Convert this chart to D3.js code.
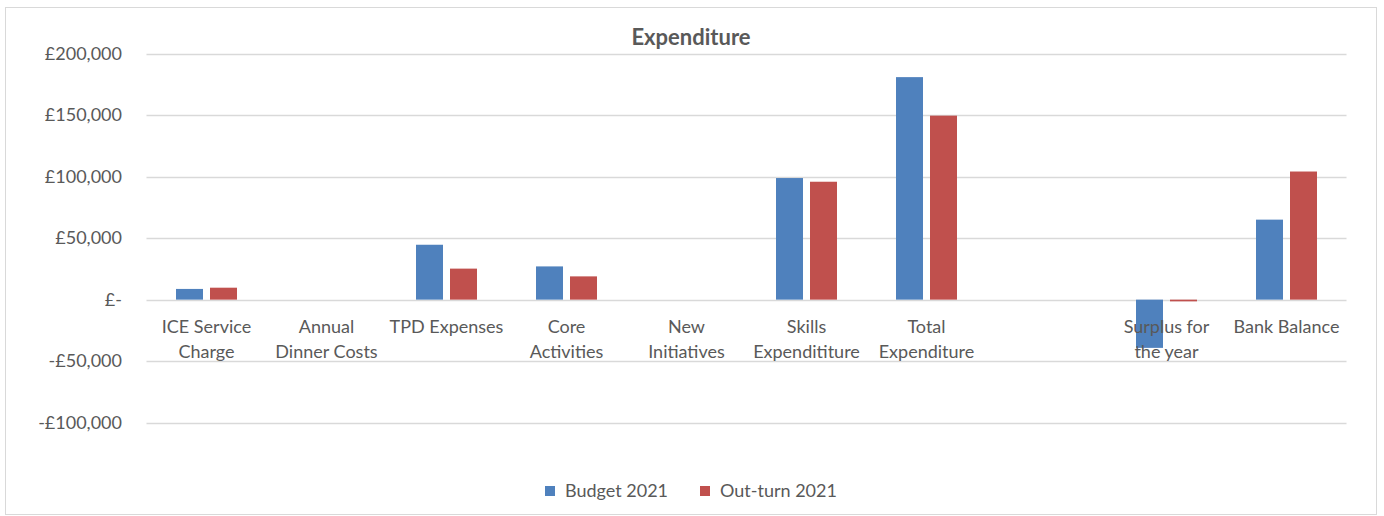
<!DOCTYPE html>
<html>
<head>
<meta charset="utf-8">
<script src="https://cdn.jsdelivr.net/npm/d3@7"></script>
<style>
  body { margin: 0; background: #fff; }
  text { font-family: Lato, "Liberation Sans", sans-serif; fill: #595959; }
</style>
</head>
<body>
<svg id="chart"></svg>
<script>
// data
var categories = ["ICE Service\nCharge", "Annual\nDinner Costs", "TPD Expenses", "Core\nActivities",
  "New\nInitiatives", "Skills\nExpendititure", "Total\nExpenditure", "", "Surplus for\nthe year", "Bank Balance"];
var seriesNames = ["Budget 2021", "Out-turn 2021"];
var budget = [8700, 0, 44600, 27000, 0, 98800, 180800, null, -39200, 65000];
var outturn = [9700, 0, 25200, 18900, 0, 95800, 149500, null, -1400, 104100];
var yTicks = [-100000, -50000, 0, 50000, 100000, 150000, 200000];
var colours = ["#4f81bd", "#c0504d"];

var svgWidth = 1384, svgHeight = 516;
var svg = d3.select("#chart").attr("width", svgWidth).attr("height", svgHeight);

// chart frame
svg.append("rect")
  .attr("x", 5.5).attr("y", 7.5)
  .attr("width", 1371).attr("height", 507)
  .attr("fill", "#fff").attr("stroke", "#d9d9d9");

var x0 = d3.scaleBand().domain(d3.range(categories.length)).range([146.5, 1346.5]).padding(0);
var x1 = d3.scaleBand().domain(seriesNames).range([0, x0.bandwidth()])
  .paddingInner(0.206).paddingOuter(0.868);
var y = d3.scaleLinear().domain([-100000, 200000]).range([422.7, 53.5]);

var fmt = d3.format(",");
function money(v) {
  if (v === 0) return "£-";
  return (v < 0 ? "-" : "") + "£" + fmt(Math.abs(v));
}

// gridlines + y labels
var yAxis = d3.axisLeft(y).tickValues(yTicks).tickFormat(money).tickSize(0).tickPadding(0);
var ga = svg.append("g").attr("transform", "translate(122,0)").call(yAxis);
ga.select(".domain").remove();
ga.selectAll("text").attr("font-size", 18).attr("fill", "#595959")
  .style("font-family", "Lato, sans-serif");

svg.append("g").selectAll("line").data(yTicks).enter().append("line")
  .attr("x1", x0.range()[0]).attr("x2", x0.range()[1])
  .attr("y1", function(d) { return Math.round(y(d)) + 0.5; })
  .attr("y2", function(d) { return Math.round(y(d)) + 0.5; })
  .attr("stroke", "#d9d9d9").attr("stroke-width", 1.3);

// bars
var rows = categories.map(function(c, i) {
  return { i: i, vals: [budget[i], outturn[i]] };
});
var groups = svg.append("g").selectAll("g").data(rows).enter().append("g")
  .attr("transform", function(d) { return "translate(" + x0(d.i) + ",0)"; });
groups.selectAll("rect")
  .data(function(d) {
    return d.vals.map(function(v, k) { return { name: seriesNames[k], v: v, k: k }; })
      .filter(function(e) { return e.v !== null && e.v !== 0; });
  })
  .enter().append("rect")
  .attr("x", function(d) { return x1(d.name); })
  .attr("width", x1.bandwidth())
  .attr("y", function(d) { return y(Math.max(0, d.v)); })
  .attr("height", function(d) { return Math.abs(y(d.v) - y(0)); })
  .attr("fill", function(d) { return colours[d.k]; });

// category labels
var lab = svg.append("g").selectAll("text").data(categories).enter().append("text")
  .attr("text-anchor", "middle")
  .attr("font-size", 18)
  .attr("x", function(d, i) { return x0(i) + x0.bandwidth() / 2; })
  .attr("y", 327);
lab.each(function(d) {
  var t = d3.select(this);
  d.split("\n").forEach(function(line, j) {
    t.append("tspan").attr("x", t.attr("x")).attr("dy", j === 0 ? "0.35em" : 25).text(line);
  });
});

// title
svg.append("text")
  .attr("x", 691).attr("y", 37).attr("dy", "0.35em")
  .attr("text-anchor", "middle")
  .attr("font-size", 22).attr("font-weight", "bold")
  .text("Expenditure");

// legend
var legendX = [545, 700];
var leg = svg.append("g").selectAll("g").data(seriesNames).enter().append("g")
  .attr("transform", function(d, i) { return "translate(" + legendX[i] + ",491)"; });
leg.append("rect").attr("x", 0).attr("y", -5).attr("width", 10).attr("height", 10)
  .attr("fill", function(d, i) { return colours[i]; });
leg.append("text").attr("x", 20).attr("dy", "0.35em").attr("font-size", 18)
  .text(function(d) { return d; });
</script>
</body>
</html>
